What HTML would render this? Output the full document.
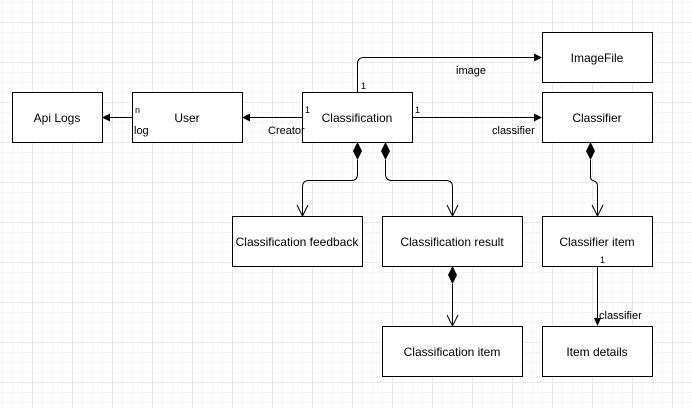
<!DOCTYPE html>
<html><head><style>
html,body{margin:0;padding:0;background:#fff;}
svg{display:block;font-family:"Liberation Sans",Arial,sans-serif;}
</style></head><body>
<svg width="692" height="408" viewBox="0 0 692 408" xmlns="http://www.w3.org/2000/svg">
<defs>
<pattern id="minor" width="10" height="10" patternUnits="userSpaceOnUse" x="2" y="2">
<path d="M0 0.5H10M0.5 0V10" stroke="#f5f5f5" stroke-width="1" fill="none"/>
</pattern>
<pattern id="major" width="40" height="40" patternUnits="userSpaceOnUse" x="32" y="22">
<path d="M0 0.5H40M0.5 0V40" stroke="#e8e8e8" stroke-width="1" fill="none"/>
</pattern>
</defs>
<rect width="692" height="408" fill="url(#minor)"/>
<rect width="692" height="408" fill="url(#major)"/>
<g fill="#fff" stroke="#000" stroke-width="1">
<rect x="12.5" y="92.5" width="90" height="50"/>
<rect x="132.5" y="92.5" width="110" height="50"/>
<rect x="302.5" y="92.5" width="110" height="50"/>
<rect x="542.5" y="32.5" width="110" height="50"/>
<rect x="542.5" y="92.5" width="110" height="50"/>
<rect x="232.5" y="216.5" width="130" height="50"/>
<rect x="382.5" y="216.5" width="140" height="50"/>
<rect x="542.5" y="216.5" width="110" height="50"/>
<rect x="382.5" y="326.5" width="140" height="50"/>
<rect x="542.5" y="326.5" width="110" height="50"/>
</g>
<g font-size="12" fill="#000" text-anchor="middle">
<text x="57" y="122">Api Logs</text>
<text x="187" y="122">User</text>
<text x="357" y="122">Classification</text>
<text x="597" y="62">ImageFile</text>
<text x="597" y="122">Classifier</text>
<text x="297" y="246">Classification feedback</text>
<text x="452" y="246">Classification result</text>
<text x="597" y="246">Classifier item</text>
<text x="452" y="356">Classification item</text>
<text x="597" y="356">Item details</text>
</g>
<g stroke="#000" stroke-width="1" fill="none">
<path d="M132 117.5H110"/>
<path d="M302 117.5H250"/>
<path d="M357.5 92V64Q357.5 57.5 364 57.5H534"/>
<path d="M412 117.5H534"/>
<path d="M357.5 160V174Q357.5 180.5 351 180.5H309Q302.5 180.5 302.5 187V216"/>
<path d="M385.5 160V174Q385.5 180.5 392 180.5H446Q452.5 180.5 452.5 187V216"/>
<path d="M590.5 160V177Q590.5 180 594 181Q597.5 182 597.5 186V216"/>
<path d="M452.5 284V326"/>
<path d="M597.5 266V318"/>
<path d="M297 205L302.5 216L308 205M447 205L452.5 216L458 205M592 205L597.5 216L603 205M447 315L452.5 326L458 315"/>
</g>
<g fill="#000">
<path d="M102 117.5L110 113.5V121.5Z"/>
<path d="M242 117.5L250 113.5V121.5Z"/>
<path d="M542 57.5L534 53.5V61.5Z"/>
<path d="M542 117.5L534 113.5V121.5Z"/>
<path d="M597.5 326L594 318H601Z"/>
<path d="M357.5 142L362 151L357.5 160L353 151Z"/>
<path d="M385.5 142L390 151L385.5 160L381 151Z"/>
<path d="M590.5 142L595 151L590.5 160L586 151Z"/>
<path d="M452.5 266L457 275L452.5 284L448 275Z"/>
</g>
<g font-size="11" fill="#000">
<text x="135" y="113" font-size="9">n</text>
<text x="134" y="134">log</text>
<text x="305" y="113" font-size="9">1</text>
<text x="268" y="134">Creator</text>
<text x="361" y="89" font-size="9">1</text>
<text x="456" y="74">image</text>
<text x="415" y="113" font-size="9">1</text>
<text x="492" y="134">classifier</text>
<text x="600" y="263" font-size="9">1</text>
<text x="599" y="319">classifier</text>
</g>
</svg>
</body></html>
